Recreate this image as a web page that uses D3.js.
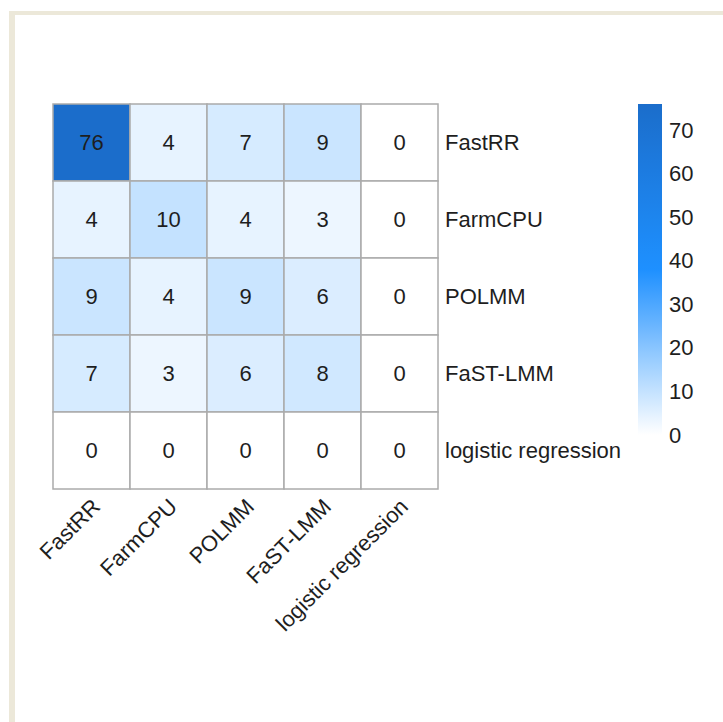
<!DOCTYPE html>
<html>
<head>
<meta charset="utf-8">
<script src="https://cdn.jsdelivr.net/npm/d3@7"></script>
<style>
  html, body { margin: 0; padding: 0; background: #fff; }
  svg { display: block; }
  text { font-family: "Liberation Sans", Arial, Helvetica, sans-serif; fill: #1e1e1e; }
</style>
</head>
<body>
<svg id="chart" width="723" height="722"></svg>
<script>
// Methods compared (rows and columns share the same order)
const methods = ["FastRR", "FarmCPU", "POLMM", "FaST-LMM", "logistic regression"];

// Overlap counts, one array per row
const rowFastRR   = [76, 4, 7, 9, 0];
const rowFarmCPU  = [4, 10, 4, 3, 0];
const rowPOLMM    = [9, 4, 9, 6, 0];
const rowFaSTLMM  = [7, 3, 6, 8, 0];
const rowLogistic = [0, 0, 0, 0, 0];

// Colour bar ticks
const legendTicks = [0, 10, 20, 30, 40, 50, 60, 70];
const colorMax = 76;

const matrix = [rowFastRR, rowFarmCPU, rowPOLMM, rowFaSTLMM, rowLogistic];
const cells = [];
matrix.forEach((row, i) => row.forEach((v, j) => cells.push({ r: methods[i], c: methods[j], v })));

const FONT = '"Liberation Sans", Arial, Helvetica, sans-serif';
const FS = 22;

const svg = d3.select("#chart");

// page frame
svg.append("rect").attr("x", 0).attr("y", 0).attr("width", 723).attr("height", 722).attr("fill", "#fff");
svg.append("rect").attr("x", 9).attr("y", 11).attr("width", 714).attr("height", 4).attr("fill", "#ece8d9");
svg.append("rect").attr("x", 9).attr("y", 11).attr("width", 6).attr("height", 711).attr("fill", "#ece8d9");

const gridLeft = 53, gridTop = 104, gridSize = 385;
const x = d3.scaleBand().domain(methods).range([gridLeft, gridLeft + gridSize]);
const y = d3.scaleBand().domain(methods).range([gridTop, gridTop + gridSize]);

const color = d3.scaleLinear()
  .domain([0, colorMax / 2, colorMax])
  .range(["#ffffff", "#1e90ff", "#1b6dcb"]);

const g = svg.append("g");

g.selectAll("rect.cell")
  .data(cells)
  .join("rect")
  .attr("class", "cell")
  .attr("x", d => x(d.c))
  .attr("y", d => y(d.r))
  .attr("width", x.bandwidth())
  .attr("height", y.bandwidth())
  .attr("fill", d => color(d.v))
  .attr("stroke", "#ababab")
  .attr("stroke-width", 1.5);

g.selectAll("text.val")
  .data(cells)
  .join("text")
  .attr("class", "val")
  .attr("x", d => x(d.c) + x.bandwidth() / 2)
  .attr("y", d => y(d.r) + y.bandwidth() / 2)
  .attr("dy", "0.36em")
  .attr("text-anchor", "middle")
  .attr("font-size", FS)
  .text(d => d.v);

// row labels on the right
const yAxis = d3.axisRight(y).tickSize(0).tickPadding(7);
const ya = svg.append("g").attr("transform", `translate(${gridLeft + gridSize},0)`).call(yAxis);
ya.select(".domain").remove();
ya.selectAll("text").attr("font-size", FS).attr("fill", "#1e1e1e").style("font-family", FONT);

// column labels rotated under the grid
const xAxis = d3.axisBottom(x).tickSize(0).tickPadding(0);
const xa = svg.append("g").attr("transform", `translate(0,${gridTop + gridSize})`).call(xAxis);
xa.select(".domain").remove();
xa.selectAll("text")
  .attr("font-size", FS).attr("fill", "#1e1e1e")
  .style("font-family", FONT)
  .attr("text-anchor", "end")
  .attr("y", 0).attr("dy", 0)
  .attr("transform", "translate(10,19) rotate(-45)");

// colour bar
const barX = 638, barW = 24, barTop = 104, barBottom = 435;
const ly = d3.scaleLinear().domain([0, colorMax]).range([barBottom, barTop]);
const defs = svg.append("defs");
const grad = defs.append("linearGradient").attr("id", "cbar")
  .attr("x1", 0).attr("y1", 1).attr("x2", 0).attr("y2", 0);
d3.range(0, 1.0001, 0.05).forEach(t => {
  grad.append("stop").attr("offset", t).attr("stop-color", color(t * colorMax));
});
svg.append("rect").attr("x", barX).attr("y", barTop).attr("width", barW)
  .attr("height", barBottom - barTop).attr("fill", "url(#cbar)");

const la = svg.append("g").attr("transform", `translate(${barX + barW},0)`)
  .call(d3.axisRight(ly).tickValues(legendTicks).tickSize(0).tickPadding(7));
la.select(".domain").remove();
la.selectAll("text").attr("font-size", FS).attr("fill", "#1e1e1e").style("font-family", FONT);
</script>
</body>
</html>
